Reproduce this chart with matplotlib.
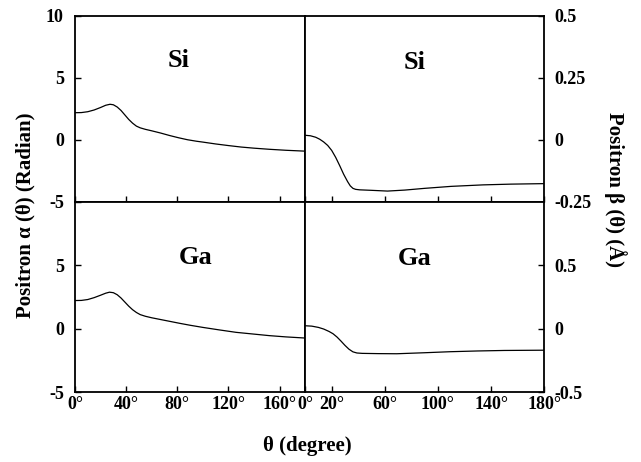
import numpy as np
import matplotlib.pyplot as plt

plt.rcParams['font.family'] = ['Liberation Serif', 'DejaVu Serif']
plt.rcParams['font.weight'] = 'bold'

# ---- alpha(theta), radian
theta_si_a = [0, 5, 10, 15, 20, 24, 27.4, 30, 33, 36, 39, 42, 45, 48, 51, 55, 60, 67, 74,
              81, 88, 95, 100, 110, 120, 130, 140, 152, 165, 180]
alpha_si = [2.2, 2.21, 2.28, 2.42, 2.62, 2.8, 2.88, 2.84, 2.66, 2.38, 2.02, 1.66, 1.36, 1.12,
            0.98, 0.86, 0.74, 0.56, 0.36, 0.18, 0.02, -0.1, -0.17, -0.32, -0.45, -0.57, -0.66,
            -0.75, -0.83, -0.9]

theta_ga_a = [0, 5, 10, 15, 20, 24, 27, 30, 33, 36, 39, 42, 45, 48, 51, 55, 60, 67, 74, 82,
              90, 100, 113, 126, 140, 152, 165, 180]
alpha_ga = [2.22, 2.23, 2.3, 2.45, 2.64, 2.8, 2.88, 2.84, 2.68, 2.42, 2.1, 1.78, 1.5, 1.28,
            1.11, 0.98, 0.86, 0.72, 0.58, 0.42, 0.27, 0.1, -0.1, -0.29, -0.43, -0.55, -0.65,
            -0.74]

# ---- beta(theta), angstrom
theta_si_b = [0, 4, 8, 11, 14, 17, 20, 23, 26, 29, 32, 34, 36, 38, 41, 50, 62, 75, 90, 110,
              134, 155, 180]
beta_si = [0.019, 0.017, 0.011, 0.003, -0.008, -0.022, -0.042, -0.07, -0.103, -0.138, -0.168,
           -0.185, -0.195, -0.199, -0.201, -0.203, -0.206, -0.202, -0.195, -0.187, -0.181,
           -0.178, -0.176]

theta_ga_b = [0, 5, 10, 14, 18, 21, 24, 27, 30, 33, 36, 39, 43, 55, 69, 90, 109, 130, 150, 180]
beta_ga = [0.023, 0.02, 0.01, -0.003, -0.022, -0.04, -0.066, -0.098, -0.132, -0.162, -0.183,
           -0.192, -0.195, -0.197, -0.198, -0.19, -0.182, -0.176, -0.172, -0.17]

left_xticks = [0, 40, 80, 120, 160]
right_xticks = [0, 20, 60, 100, 140, 180]

fig = plt.figure(figsize=(6.41, 4.62), dpi=100)
# [left, bottom, width, height]
ax_tl = fig.add_axes([0.117, 0.5628, 0.359, 0.4026])
ax_tr = fig.add_axes([0.476, 0.5628, 0.373, 0.4026])
ax_bl = fig.add_axes([0.117, 0.1515, 0.359, 0.4113])
ax_br = fig.add_axes([0.476, 0.1515, 0.373, 0.4113])

lw = 0.9
ax_tl.plot(theta_si_a, alpha_si, color="black", lw=lw)
ax_bl.plot(theta_ga_a, alpha_ga, color="black", lw=lw)
ax_tr.plot(theta_si_b, beta_si, color="black", lw=lw)
ax_br.plot(theta_ga_b, beta_ga, color="black", lw=lw)

tick_fs = 13
for ax in (ax_tl, ax_tr, ax_bl, ax_br):
    ax.set_xlim(0, 180)
    ax.tick_params(direction="in", length=4, width=1.0, labelsize=tick_fs)
    ax.tick_params(axis="x", pad=3)
    for sp in ax.spines.values():
        sp.set_linewidth(1.3)

# left panels
for ax in (ax_tl, ax_bl):
    ax.set_ylim(-5, 10)
    ax.set_xticks(left_xticks)
    ax.set_yticks([-5, 0, 5, 10])
    ax.tick_params(axis="y", pad=8)
ax_tl.set_yticklabels(["-5", "0", "5", "10"])
ax_bl.set_yticklabels(["-5", "0", "5", ""])
ax_tl.set_xticklabels([])
ax_bl.set_xticklabels(["%d°" % t for t in left_xticks])

# right panels
for ax in (ax_tr, ax_br):
    ax.set_xticks(right_xticks)
    ax.yaxis.tick_right()
    ax.tick_params(axis="y", pad=7)
ax_tr.set_ylim(-0.25, 0.5)
ax_tr.set_yticks([-0.25, 0, 0.25, 0.5])
ax_tr.set_yticklabels(["-0.25", "0", "0.25", "0.5"])
ax_br.set_ylim(-0.5, 1.0)
ax_br.set_yticks([-0.5, 0, 0.5])
ax_br.set_yticklabels(["-0.5", "0", "0.5"])
ax_tr.set_xticklabels([])
ax_br.set_xticklabels(["%d°" % t for t in right_xticks])

# panel labels
lab_fs = 19
ax_tl.text(0.45, 0.76, "Si", transform=ax_tl.transAxes, ha="center", va="center", fontsize=lab_fs)
ax_tr.text(0.456, 0.75, "Si", transform=ax_tr.transAxes, ha="center", va="center", fontsize=lab_fs)
ax_bl.text(0.526, 0.71, "Ga", transform=ax_bl.transAxes, ha="center", va="center", fontsize=lab_fs)
ax_br.text(0.456, 0.705, "Ga", transform=ax_br.transAxes, ha="center", va="center", fontsize=lab_fs)

# axis labels
fig.text(0.039, 0.535, "Positron α (θ) (Radian)", rotation=90, ha="center", va="center", fontsize=15)
fig.text(0.96, 0.589, "Positron β (θ) (Å)", rotation=270, ha="center", va="center", fontsize=15)
fig.text(0.48, 0.035, "θ (degree)", ha="center", va="center", fontsize=15)

fig.savefig("out.png", dpi=100)
